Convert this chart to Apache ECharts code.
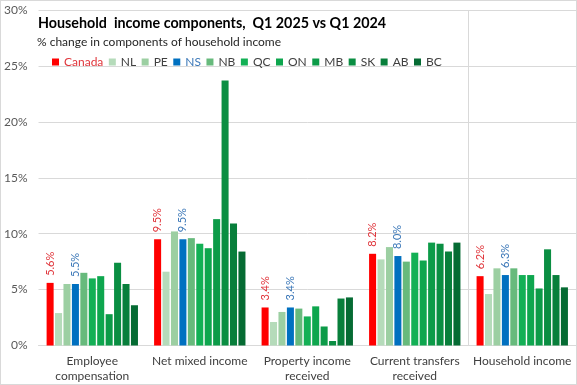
<!DOCTYPE html>
<html><head><meta charset="utf-8">
<script src="https://cdn.jsdelivr.net/npm/echarts@6/dist/echarts.min.js"></script>
<style>
html,body{margin:0;padding:0;background:#fff;}
#c{width:577px;height:385px;box-sizing:border-box;border:1px solid #d9d9d9;}
</style></head>
<body><div id="c"></div>
<script>
const categories = ['Employee\ncompensation', 'Net mixed income', 'Property income\nreceived', 'Current transfers\nreceived', 'Household income'];
const regions = ['Canada', 'NL', 'PE', 'NS', 'NB', 'QC', 'ON', 'MB', 'SK', 'AB', 'BC'];
const Canada = [5.6, 9.5, 3.4, 8.2, 6.2];
const NL = [2.9, 6.6, 2.1, 7.7, 4.6];
const PE = [5.5, 10.2, 3.0, 8.8, 6.9];
const NS = [5.5, 9.5, 3.4, 8.0, 6.3];
const NB = [6.5, 9.6, 3.3, 7.5, 6.9];
const QC = [6.0, 9.1, 2.6, 8.3, 6.3];
const ON = [6.2, 8.7, 3.5, 7.6, 6.3];
const MB = [2.8, 11.3, 1.7, 9.2, 5.1];
const SK = [7.4, 23.7, 0.4, 9.1, 8.6];
const AB = [5.5, 10.9, 4.2, 8.4, 6.3];
const BC = [3.6, 8.4, 4.3, 9.2, 5.2];
const yTicks = [0, 5, 10, 15, 20, 25, 30];
const separatorAt = 4; // category boundary before "Household income"

const values = {Canada, NL, PE, NS, NB, QC, ON, MB, SK, AB, BC};
const colors = {
  Canada: '#ff0000', NL: '#b5dbba', PE: '#9ccfa2', NS: '#0070c0', NB: '#67ba7c',
  QC: '#13b055', ON: '#0ea64e', MB: '#0c9b48', SK: '#0a8e42', AB: '#087f3b', BC: '#056b33'
};
const labelColors = {Canada: '#e0353b', NS: '#3c78b8'};

const series = regions.map(r => ({
  name: r, type: 'bar', data: values[r],
  barCategoryGap: '15%', barGap: '20%',
  itemStyle: {color: colors[r]},
  label: labelColors[r] ? {
    show: true, position: 'top', rotate: 90, align: 'left', verticalAlign: 'middle', distance: 7,
    formatter: p => p.value.toFixed(1) + '%',
    fontFamily: 'Lato', fontSize: 11, color: labelColors[r]
  } : {show: false}
}));
series.push({
  name: 'separator', type: 'line', xAxisIndex: 1, data: [], silent: true,
  markLine: {
    silent: true, symbol: 'none', label: {show: false}, animation: false,
    lineStyle: {color: '#d9d9d9', type: 'solid', width: 1},
    data: [{xAxis: separatorAt}]
  }
});

const chart = echarts.init(document.getElementById('c'));
chart.setOption({
  animation: false,
  textStyle: {fontFamily: 'Lato'},
  title: [
    {text: 'Household  income components,  Q1 2025 vs Q1 2024', left: 32, top: 10,
     textStyle: {fontFamily: 'Lato', fontSize: 14.3, fontWeight: 'bold', color: '#000'}},
    {text: '% change in components of household income', left: 31, top: 30,
     textStyle: {fontFamily: 'Lato', fontSize: 12, fontWeight: 'normal', color: '#262626'}}
  ],
  legend: {
    left: 46, top: 50, itemWidth: 7, itemHeight: 7, itemGap: 5.5, icon: 'rect',
    textStyle: {fontFamily: 'Lato', fontSize: 12, color: '#404040'},
    data: regions.map(r => labelColors[r] ? {name: r, textStyle: {color: labelColors[r]}} : {name: r})
  },
  grid: {left: 37, right: 0, top: 9, bottom: 38.5},
  xAxis: [{
    type: 'category', data: categories,
    axisLine: {lineStyle: {color: '#d9d9d9'}},
    axisTick: {show: false},
    axisLabel: {fontFamily: 'Lato', fontSize: 12, color: '#404040', lineHeight: 15, margin: 8, interval: 0}
  }, {
    type: 'value', min: 0, max: categories.length, show: false, position: 'bottom'
  }],
  yAxis: {
    type: 'value', min: yTicks[0], max: yTicks[yTicks.length - 1], interval: 5,
    axisLabel: {formatter: '{value}%', fontFamily: 'Lato', fontSize: 12, color: '#595959', margin: 11},
    axisLine: {show: false}, axisTick: {show: false},
    splitLine: {lineStyle: {color: '#d9d9d9'}}
  },
  series
});
</script></body></html>
